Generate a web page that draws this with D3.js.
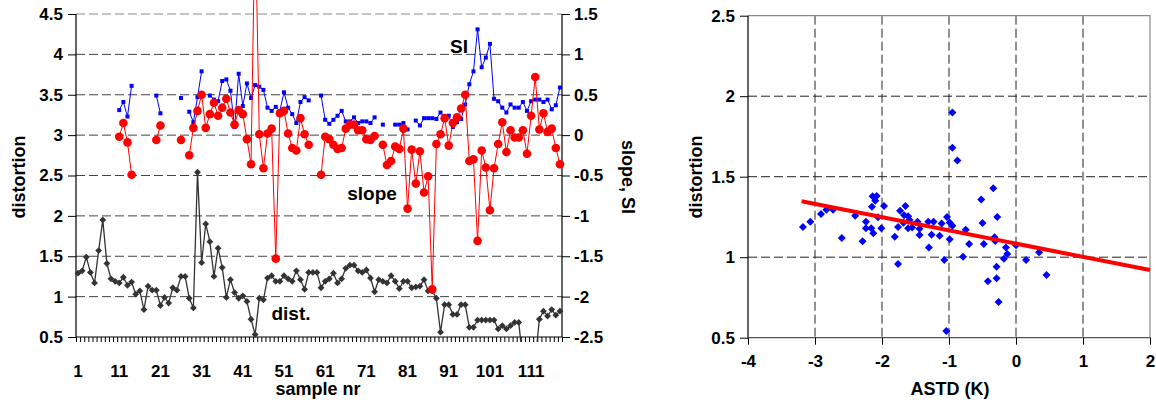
<!DOCTYPE html>
<html><head><meta charset="utf-8">
<script src="https://cdn.jsdelivr.net/npm/d3@7"></script>
<style>
html,body{margin:0;padding:0;background:#fff;}
svg{display:block;font-family:"Liberation Sans",Arial,sans-serif;font-weight:bold;}
</style></head><body>
<svg id="chart" width="1156" height="402"></svg>
<script>
// ---------- left panel data ----------
const sampleNr = d3.range(1, 119);
const dist = [1.29,1.32,1.49,1.30,1.17,1.57,1.95,1.41,1.22,1.19,
 1.17,1.24,1.14,1.18,1.03,1.07,0.84,1.13,1.08,1.08,
 0.89,0.99,0.92,1.11,1.08,1.25,1.25,0.98,0.86,2.54,
 1.42,1.90,1.68,1.25,1.60,1.36,0.99,1.21,1.05,0.98,
 1.01,0.94,0.72,0.53,0.98,0.96,1.23,1.26,1.19,1.19,
 1.26,1.22,1.19,1.32,1.21,1.09,1.30,1.30,1.30,1.11,
 1.19,1.22,1.29,1.17,1.22,1.35,1.39,1.39,1.32,1.30,
 1.33,1.23,1.06,1.21,1.19,1.17,1.26,1.19,1.10,1.19,
 1.19,1.11,1.12,1.13,1.21,1.07,1.07,0.98,0.56,0.90,
 0.90,0.78,0.78,0.90,0.90,0.62,0.62,0.71,0.71,0.71,
 0.71,0.71,0.60,0.64,0.60,0.64,0.68,0.68,0.20,0.20,
 0.20,0.20,0.72,0.82,0.76,0.84,0.77,0.82];
const slope = [null,null,null,null,null,null,null,null,null,null,
 -0.02,0.15,-0.09,-0.49,null,null,null,null,null,-0.06,
 0.12,null,null,null,null,-0.06,null,-0.25,0.09,0.30,
 0.50,0.09,0.26,0.40,0.24,0.34,0.45,0.28,0.13,0.31,
 0.26,-0.05,-0.36,2.8,0.01,-0.41,0.02,0.08,-1.53,0.27,
 0.30,0.02,-0.16,-0.19,0.21,0.01,-0.12,null,null,-0.49,
 -0.02,-0.05,-0.12,-0.17,-0.16,0.08,0.13,0.13,0.06,0.06,
 -0.05,-0.06,-0.01,null,-0.12,-0.37,-0.32,-0.14,-0.17,0.08,
 -0.91,-0.18,-0.60,-0.20,-0.71,-0.51,-1.91,-0.11,0.01,0.21,
 -0.13,0.15,0.22,0.33,0.50,-0.32,-0.30,-1.31,-0.19,-0.40,
 -0.93,-0.41,-0.11,0.16,-0.21,0.06,-0.03,-0.03,0.06,-0.23,
 0.24,0.72,0.07,0.27,0.04,0.08,-0.16,-0.36];
const si = [null,null,null,null,null,null,null,null,null,null,
 0.31,0.41,0.23,0.61,null,null,null,null,null,0.49,
 0.27,null,null,null,null,0.46,null,0.29,0.16,0.47,
 0.79,null,0.49,0.44,0.42,0.67,0.69,0.55,0.10,0.76,
 0.36,0.64,0.46,0.62,0.60,0.56,0.34,0.30,0.35,0.30,
 0.53,0.34,0.26,0.15,0.41,0.47,0.43,null,null,0.49,
 0.19,0.14,0.19,0.24,0.30,0.17,0.17,0.22,0.15,0.17,
 0.17,0.15,0.22,null,0.13,null,null,0.13,0.13,0.15,
 0.07,null,0.18,0.12,0.21,0.21,0.21,0.20,0.28,0.22,
 0.24,0.10,0.16,0.20,0.38,0.63,0.79,1.31,0.84,0.96,
 1.13,0.45,0.42,0.34,0.28,0.38,0.34,0.34,0.41,0.30,
 0.42,0.44,0.44,0.41,0.44,0.32,0.37,0.59];
const xTickLabels = [1,11,21,31,41,51,61,71,81,91,101,111];
const leftTicks = [0.5,1,1.5,2,2.5,3,3.5,4,4.5];
const rightTicks = [-2.5,-2,-1.5,-1,-0.5,0,0.5,1,1.5];

// ---------- right panel data ----------
const astd = [-3.18,-3.07,-2.91,-2.83,-2.73,-2.60,-2.40,-2.29,-2.24,-2.24,
 -2.15,-2.14,-2.08,-2.10,-2.16,-2.13,-2.06,-2.01,-1.97,-1.81,
 -1.76,-1.76,-1.73,-1.68,-1.65,-1.67,-1.61,-1.61,-1.59,-1.55,
 -1.47,-1.44,-1.44,-1.31,-1.30,-1.26,-1.23,-1.14,-1.11,-1.07,
 -1.03,-1.04,-0.99,-0.99,-0.95,-0.95,-0.95,-0.875,-0.79,-0.75,
 -0.70,-0.52,-0.50,-0.48,-0.42,-0.34,-0.32,-0.31,-0.29,-0.29,
 -0.28,-0.26,-0.18,-0.15,-0.13,0.0,0.15,0.345,0.455];
const distortionB = [1.188,1.22,1.268,1.295,1.295,1.119,1.258,1.099,1.22,1.18,
 1.314,1.378,1.38,1.35,1.18,1.148,1.248,1.18,1.318,1.127,
 0.958,1.188,1.289,1.214,1.318,1.26,1.255,1.18,1.231,1.185,
 1.22,1.176,1.138,1.22,1.06,1.14,1.22,1.134,1.21,0.983,
 1.25,0.542,1.215,1.112,1.195,1.898,1.68,1.60,1.003,1.17,
 1.082,1.359,1.213,1.082,0.85,1.428,1.124,1.10,0.94,0.87,
 1.25,0.722,0.99,1.06,1.02,1.074,0.983,1.03,0.89];
const fitX = [-3.2, 2];
const fitY = [1.347, 0.92];
const sXTicks = [-4,-3,-2,-1,0,1,2];
const sYTicks = [0.5,1,1.5,2,2.5];

const svg = d3.select('#chart');
const FS_TICK = 17, FS_TITLE = 18, FS_LBL = 19;
const diamond = r => `M0,${-r}L${r},0L0,${r}L${-r},0Z`;

// ================= LEFT PANEL =================
const L = {l:76, r:562, t:14, b:337};
const x = d3.scaleLinear().domain([0.5, sampleNr.length + 0.5]).range([L.l, L.r]);
const yL = d3.scaleLinear().domain([0.5, 4.5]).range([L.b, L.t]);
const yR = d3.scaleLinear().domain([-2.5, 1.5]).range([L.b, L.t]);
const inL = v => v >= 0.5 && v <= 4.5;
const inR = v => v >= -2.5 && v <= 1.5;

svg.append('defs').append('clipPath').attr('id', 'clipL')
  .append('rect').attr('x', 0).attr('y', -20).attr('width', 660).attr('height', L.b + 25);

const gL = svg.append('g');
// grid
gL.append('g').selectAll('line').data(leftTicks.filter(d => d > 0.5)).join('line')
  .attr('x1', L.l).attr('x2', L.r).attr('y1', d => yL(d)).attr('y2', d => yL(d))
  .attr('stroke', d => d === 4.5 ? '#8a8a8a' : '#444').attr('stroke-width', 1)
  .attr('stroke-dasharray', '9,4');

// axes
const axL = gL.append('g').attr('transform', `translate(${L.l},0)`)
  .call(d3.axisLeft(yL).tickValues(leftTicks).tickSize(8).tickPadding(5).tickFormat(d => String(d)));
const axR = gL.append('g').attr('transform', `translate(${L.r},0)`)
  .call(d3.axisRight(yR).tickValues(rightTicks).tickSize(8).tickPadding(4).tickFormat(d => String(d)));
const axB = gL.append('g').attr('transform', `translate(0,${L.b})`)
  .call(d3.axisBottom(x).tickValues(d3.range(0.5, sampleNr.length + 1, 1)).tickSize(5).tickFormat(''));
[axL, axR, axB].forEach(a => {
  a.select('.domain').attr('stroke', '#000').attr('stroke-width', 1.2);
  a.selectAll('.tick line').attr('stroke', '#000');
  a.selectAll('text').attr('font-size', FS_TICK).attr('font-weight', 'bold')
    .attr('font-family', '"Liberation Sans",Arial,sans-serif').attr('fill', '#000');
});
axB.select('.domain').attr('d', `M${L.l},0H${L.r}`);
axL.select('.domain').attr('d', `M0,${L.t}V${L.b}`);
axR.select('.domain').attr('d', `M0,${L.t}V${L.b}`);

gL.append('g').selectAll('text').data(xTickLabels).join('text')
  .attr('x', d => x(d)).attr('y', 377).attr('text-anchor', 'middle')
  .attr('font-size', FS_TICK).text(d => d);

// series
const lineOf = (arr, sc) => d3.line().defined(d => d != null)
  .x((d, i) => x(sampleNr[i])).y(d => sc(d))(arr);
const pts = arr => arr.map((d, i) => [sampleNr[i], d]).filter(p => p[1] != null);
const gS = gL.append('g').attr('clip-path', 'url(#clipL)');

// dist
gS.append('path').attr('d', lineOf(dist, yL)).attr('fill', 'none')
  .attr('stroke', '#333').attr('stroke-width', 1.3);
gS.append('g').selectAll('path').data(pts(dist).filter(p => inL(p[1]))).join('path')
  .attr('transform', p => `translate(${x(p[0])},${yL(p[1])})`)
  .attr('d', diamond(3.4)).attr('fill', '#333');

// SI
gS.append('path').attr('d', lineOf(si, yR)).attr('fill', 'none')
  .attr('stroke', '#0000ff').attr('stroke-width', 1);
gS.append('g').selectAll('rect').data(pts(si).filter(p => inR(p[1]))).join('rect')
  .attr('x', p => x(p[0]) - 2).attr('y', p => yR(p[1]) - 2).attr('width', 4).attr('height', 4)
  .attr('fill', '#0000ff');

// slope
gS.append('path').attr('d', lineOf(slope, yR)).attr('fill', 'none')
  .attr('stroke', '#ff0000').attr('stroke-width', 1);
gS.append('g').selectAll('circle').data(pts(slope).filter(p => inR(p[1]))).join('circle')
  .attr('cx', p => x(p[0])).attr('cy', p => yR(p[1])).attr('r', 4.3)
  .attr('fill', '#ff0000');

// labels
gL.append('text').attr('x', 459).attr('y', 53).attr('text-anchor', 'middle').attr('font-size', FS_LBL).text('SI');
gL.append('text').attr('x', 372).attr('y', 200).attr('text-anchor', 'middle').attr('font-size', FS_LBL).text('slope');
gL.append('text').attr('x', 291).attr('y', 320).attr('text-anchor', 'middle').attr('font-size', FS_LBL).text('dist.');

gL.append('text').attr('transform', 'translate(25,177) rotate(-90)').attr('text-anchor', 'middle')
  .attr('font-size', FS_TITLE).text('distortion');
gL.append('text').attr('transform', 'translate(622,177) rotate(90)').attr('text-anchor', 'middle')
  .attr('font-size', FS_TITLE).text('slope, SI');
gL.append('text').attr('x', 318).attr('y', 395).attr('text-anchor', 'middle')
  .attr('font-size', FS_TITLE).text('sample nr');

// ================= RIGHT PANEL =================
const R = {l:748, r:1150, t:15.7, b:337.7};
const xs = d3.scaleLinear().domain([-4, 2]).range([R.l, R.r]);
const ys = d3.scaleLinear().domain([0.5, 2.5]).range([R.b, R.t]);
const gR = svg.append('g');

gR.append('g').selectAll('line').data(sXTicks.filter(d => d > -4 && d < 2)).join('line')
  .attr('x1', d => xs(d)).attr('x2', d => xs(d)).attr('y1', R.t).attr('y2', R.b)
  .attr('stroke', '#222').attr('stroke-dasharray', '9,4');
gR.append('g').selectAll('line').data(sYTicks.filter(d => d > 0.5 && d < 2.5)).join('line')
  .attr('x1', R.l).attr('x2', R.r).attr('y1', d => ys(d)).attr('y2', d => ys(d))
  .attr('stroke', '#222').attr('stroke-dasharray', '9,4');
// border top/right
gR.append('path').attr('d', `M${R.l},${R.t}H${R.r}V${R.b}`).attr('fill', 'none')
  .attr('stroke', '#8a8a8a').attr('stroke-width', 1.2);

const ayS = gR.append('g').attr('transform', `translate(${R.l},0)`)
  .call(d3.axisLeft(ys).tickValues(sYTicks).tickSize(8).tickPadding(5).tickFormat(d => String(d)));
const axS = gR.append('g').attr('transform', `translate(0,${R.b})`)
  .call(d3.axisBottom(xs).tickValues(sXTicks).tickSize(7).tickPadding(10).tickFormat(d => String(d)));
[ayS, axS].forEach(a => {
  a.select('.domain').attr('stroke', '#000').attr('stroke-width', 1.2);
  a.selectAll('.tick line').attr('stroke', '#000');
  a.selectAll('text').attr('font-size', FS_TICK).attr('font-weight', 'bold')
    .attr('font-family', '"Liberation Sans",Arial,sans-serif').attr('fill', '#000');
});
ayS.select('.domain').attr('d', `M0,${R.t}V${R.b}`);
axS.select('.domain').attr('d', `M${R.l},0H${R.r}`).attr('stroke', '#555');

gR.append('g').selectAll('path').data(astd.map((d, i) => [d, distortionB[i]])).join('path')
  .attr('transform', p => `translate(${xs(p[0])},${ys(p[1])})`)
  .attr('d', diamond(4)).attr('fill', '#0000ff');

gR.append('line').attr('x1', xs(fitX[0])).attr('y1', ys(fitY[0]))
  .attr('x2', xs(fitX[1])).attr('y2', ys(fitY[1]))
  .attr('stroke', '#ff0000').attr('stroke-width', 4);

gR.append('text').attr('transform', 'translate(702,177) rotate(-90)').attr('text-anchor', 'middle')
  .attr('font-size', FS_TITLE).text('distortion');
gR.append('text').attr('x', 950).attr('y', 395).attr('text-anchor', 'middle')
  .attr('font-size', FS_TITLE).text('ASTD (K)');
</script>
</body></html>
